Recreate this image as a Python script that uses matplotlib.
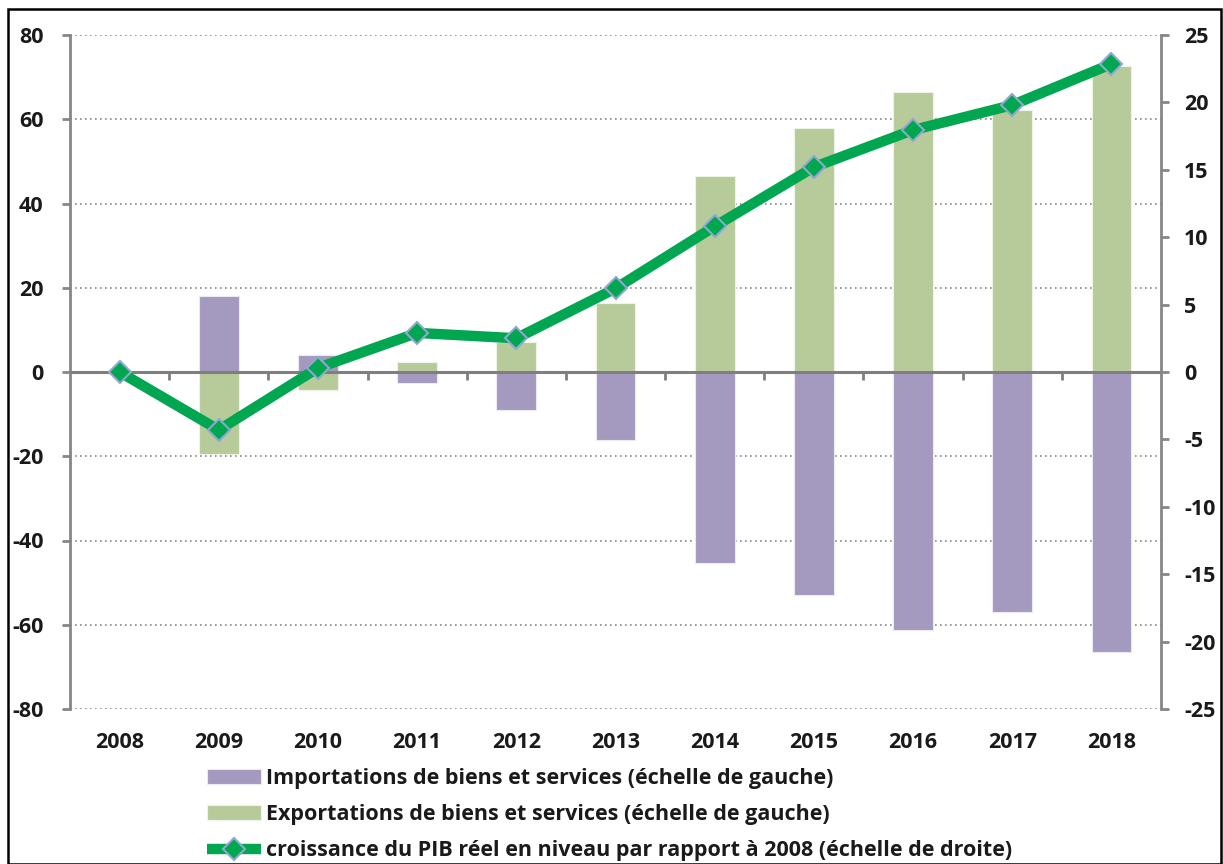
import matplotlib
matplotlib.use("Agg")
import matplotlib.pyplot as plt
from matplotlib.patches import Rectangle
import numpy as np

years = ["2008", "2009", "2010", "2011", "2012", "2013", "2014", "2015", "2016", "2017", "2018"]
imports = [0, 18.0, 4.0, -2.6, -9.0, -16.1, -45.3, -52.9, -61.2, -57.0, -66.5]
exports = [0, -19.5, -4.3, 2.4, 7.1, 16.4, 46.5, 57.9, 66.5, 62.2, 72.6]
pib = [0, -4.3, 0.3, 2.9, 2.5, 6.2, 10.8, 15.2, 17.95, 19.8, 22.85]

lab_imp = "Importations de biens et services (échelle de gauche)"
lab_exp = "Exportations de biens et services (échelle de gauche)"
lab_pib = "croissance du PIB réel en niveau par rapport à 2008 (échelle de droite)"

plt.rcParams['font.family'] = ['Open Sans', 'DejaVu Sans']
plt.rcParams['font.weight'] = 'bold'
plt.rcParams['axes.unicode_minus'] = False

W, H = 1223, 864
fig = plt.figure(figsize=(W / 100, H / 100), dpi=100)
ax = fig.add_axes([70 / W, 1 - 709 / H, (1161 - 70) / W, (709 - 35) / H])
ax2 = ax.twinx()

x = np.arange(len(years))
c_imp = "#A499BF"
c_exp = "#B7CB9A"
b1 = ax.bar(x, imports, width=0.40, color=c_imp, edgecolor="#ECE9F2", linewidth=0.8, zorder=3, label=lab_imp)
b2 = ax.bar(x, exports, width=0.40, color=c_exp, edgecolor="#EEF3E8", linewidth=0.8, zorder=3, label=lab_exp)

fs = 15.5
ax.set_xlim(-0.5, len(years) - 0.5)
ax.set_ylim(-80, 80)
ax.set_yticks(np.arange(-80, 81, 20))
ax.yaxis.grid(True, linestyle=(0, (1, 2)), color="#888888", linewidth=1.2, zorder=0)
ax.set_axisbelow(True)
ax.set_xticks(x)
ax.set_xticklabels(years, fontweight="bold")
ax.tick_params(axis='x', length=0, pad=16.5, labelsize=fs, labelcolor="#1a1a1a")
ax.tick_params(axis='y', length=6, width=2, color="#868686", labelsize=fs, labelcolor="#1a1a1a", pad=13)

for s in ["top", "right", "bottom"]:
    ax.spines[s].set_visible(False)
ax.spines["left"].set_color("#868686")
ax.spines["left"].set_linewidth(2)

# zero axis line with boundary ticks
ax.axhline(0, color="#7F7F7F", linewidth=2.2, zorder=4)
for b in np.arange(0.5, len(years) - 1, 1.0):
    ax.plot([b, b], [0, -1.9], color="#7F7F7F", linewidth=2, zorder=4, solid_capstyle="butt")

ax2.set_ylim(-25, 25)
ax2.set_yticks(np.arange(-25, 26, 5))
ax2.tick_params(axis='y', length=6, width=2, color="#868686", labelsize=fs, labelcolor="#1a1a1a", pad=10.5)
for s in ["top", "left", "bottom"]:
    ax2.spines[s].set_visible(False)
ax2.spines["right"].set_color("#868686")
ax2.spines["right"].set_linewidth(2)

ln, = ax2.plot(x, pib, color="#00A650", linewidth=7.5, marker="D", markersize=11,
               markerfacecolor="#00A650", markeredgecolor="#8FA8D0", markeredgewidth=1.5,
               zorder=5, label=lab_pib, solid_capstyle="butt")

fig.legend(handles=[b1, b2, ln], loc="upper left", bbox_to_anchor=(207 / W, 1 - 768 / H),
           frameon=False, prop={"size": fs, "weight": "bold"}, handlelength=2.5, handleheight=0.7,
           handletextpad=0.25, labelspacing=0.7, borderpad=0, borderaxespad=0, labelcolor="#1a1a1a")

fig.patches.append(Rectangle((8 / W, 0), (1221 - 8) / W, 1 - 9 / H, transform=fig.transFigure,
                             fill=False, edgecolor="black", linewidth=1.8))

fig.savefig("out.png", dpi=100)
